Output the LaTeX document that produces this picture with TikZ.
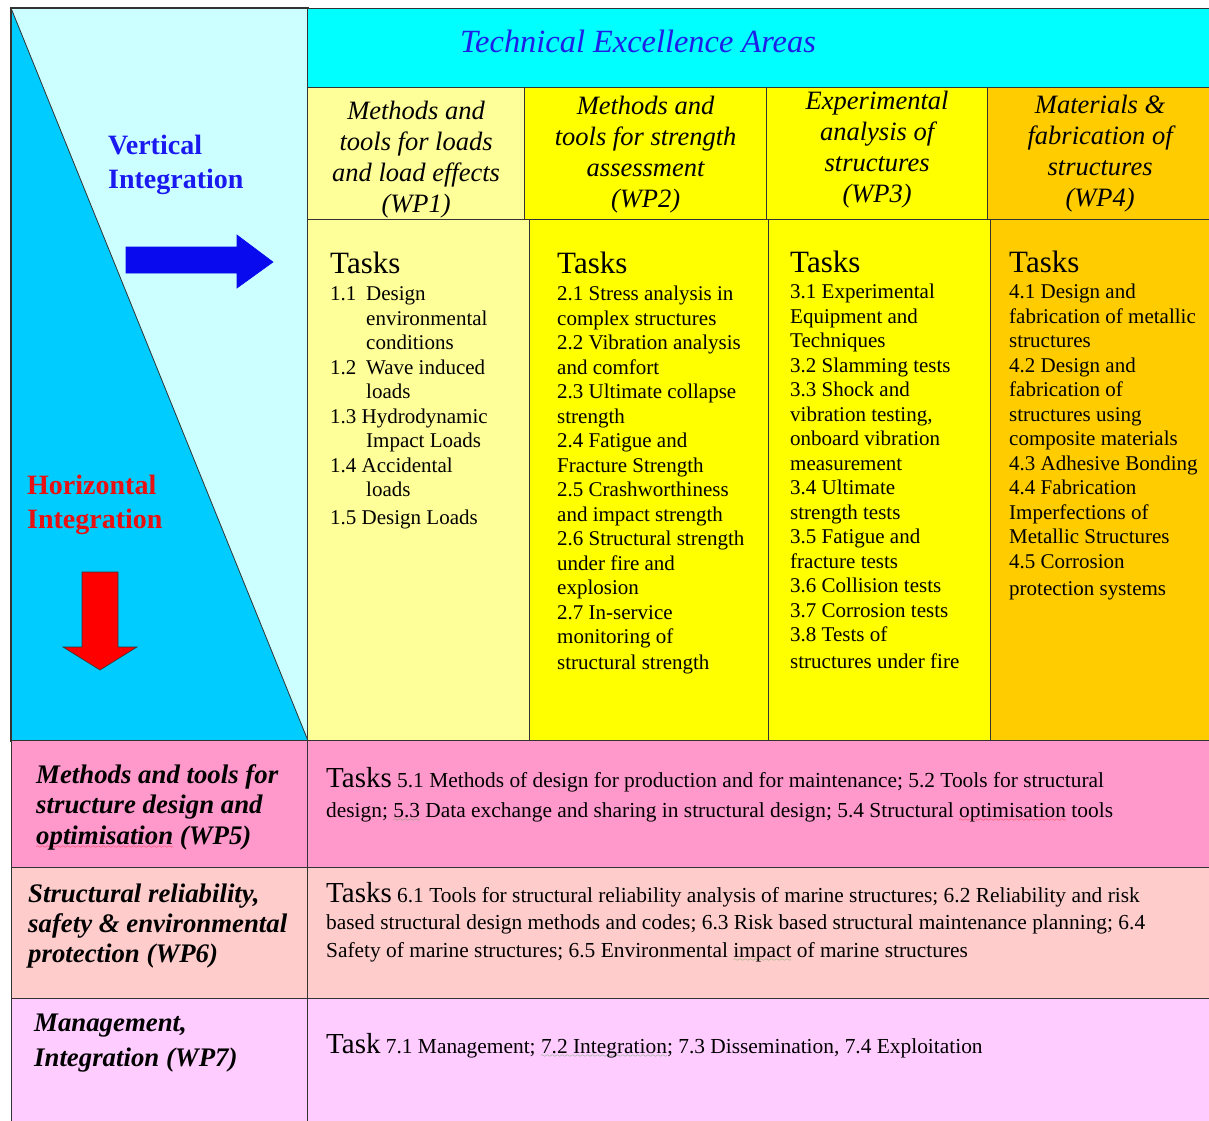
\documentclass[tikz,border=0pt]{standalone}
\usepackage{fontspec}
\setmainfont{Liberation Serif}
\usetikzlibrary{positioning}

\definecolor{paleCyan}{HTML}{CCFFFF}
\definecolor{deepCyan}{HTML}{00CCFF}
\definecolor{headCyan}{HTML}{00FFFF}
\definecolor{wpPale}{HTML}{FFFF99}
\definecolor{wpYellow}{HTML}{FFFF00}
\definecolor{wpOrange}{HTML}{FFCC00}
\definecolor{rowPink}{HTML}{FF99CC}
\definecolor{rowRose}{HTML}{FFCCCC}
\definecolor{rowLilac}{HTML}{FFCCFF}
\definecolor{areaBlue}{HTML}{1E1EE6}
\definecolor{arrowBlue}{HTML}{0A0AEE}
\definecolor{vertBlue}{HTML}{1A1AF0}
\definecolor{horizRed}{HTML}{E81010}
\definecolor{spellGreen}{HTML}{2E9E2E}
\definecolor{lineGray}{HTML}{333333}

\font\wavefont=lasy6
\newcommand\spellwave[2]{\leavevmode\setbox0=\hbox{#2}\rlap{\lower4pt\hbox to\wd0{\color{#1}\xleaders\hbox{\wavefont\char58}\hfil}}\copy0\relax}
\newcommand\redwave[1]{\spellwave{red}{#1}}
\newcommand\greenwave[1]{\spellwave{spellGreen}{#1}}
\newcommand\coltask{\fontsize{31}{31}\selectfont}
\newcommand\bigtask{\fontsize{29}{29}\selectfont}

\begin{document}
\begin{tikzpicture}[x=1pt, y=-1pt,
    cell/.style={draw=lineGray, line width=1.2pt, anchor=north west, inner sep=0pt},
    wphead/.style={font=\itshape\fontsize{26.5}{31}\selectfont, align=center, inner sep=0pt},
    tasklist/.style={anchor=north west, inner sep=0pt, align=left, font=\fontsize{21}{24.5}\selectfont},
    rowtext/.style={anchor=north west, inner sep=0pt, align=left, font=\fontsize{21.4}{27.5}\selectfont},
    rowlabel/.style={anchor=north west, inner sep=0pt, align=left, font=\bfseries\itshape\fontsize{26.8}{30}\selectfont},
    integ/.style={anchor=north west, inner sep=0pt, align=left, font=\bfseries\fontsize{28}{34}\selectfont},
    bigarrow/.style={draw=lineGray, line width=0.6pt, line join=miter}]

    \useasboundingbox (0,0) rectangle (1209,1120);

    % left panel with the two integration wedges
    \node[cell, fill=paleCyan, minimum width=296, minimum height=732] (panel) at (11,8) {};
    \fill[deepCyan] (panel.north west) -- (panel.south east) -- (panel.south west) -- cycle;
    \draw[lineGray, line width=1.2pt] (panel.north west) rectangle (panel.south east);
    \draw[lineGray, line width=0.8pt] (panel.north west) -- (panel.south east);

    \node[integ, text=vertBlue] (vert) at (108,135) {Vertical\\Integration};
    \node[integ, text=horizRed] (horiz) at (27,475) {Horizontal\\Integration};

    \filldraw[bigarrow, fill=arrowBlue, draw=arrowBlue] (126,247) -- (237,247) -- (237,235) -- (273,262)
        -- (237,288) -- (237,273) -- (126,273) -- cycle;
    \filldraw[bigarrow, fill=red] (82,572) -- (118,572) -- (118,647) -- (137,647) -- (100,670)
        -- (63,647) -- (82,647) -- cycle;

    % technical excellence areas
    \node[cell, fill=headCyan, minimum width=905, minimum height=79] (areas) at (307,8) {};
    \node[anchor=base, font=\itshape\fontsize{32.4}{32}\selectfont, text=areaBlue] (areastitle) at (638,52) {Technical Excellence Areas};

    \node[cell, fill=wpPale, minimum width=217, minimum height=132] (wp1) at (307,87) {};
    \node[cell, fill=wpYellow, minimum width=242, minimum height=132] (wp2) at (524,87) {};
    \node[cell, fill=wpYellow, minimum width=221, minimum height=132] (wp3) at (766,87) {};
    \node[cell, fill=wpOrange, minimum width=225, minimum height=132] (wp4) at (987,87) {};
    \node[wphead, yshift=-6pt] (wp1name) at (wp1.center) {Methods and\\tools for loads\\and load effects\\(WP1)};
    \node[wphead, yshift=-1pt] (wp2name) at (wp2.center) {Methods and\\tools for strength\\assessment\\(WP2)};
    \node[wphead, yshift=4pt] (wp3name) at (wp3.center) {Experimental\\analysis of\\structures\\(WP3)};
    \node[wphead] (wp4name) at (wp4.center) {Materials \&\\fabrication of\\structures\\(WP4)};

    \node[cell, fill=wpPale, minimum width=222, minimum height=521] (tasks1) at (307,219) {};
    \node[cell, fill=wpYellow, minimum width=239, minimum height=521] (tasks2) at (529,219) {};
    \node[cell, fill=wpYellow, minimum width=222, minimum height=521] (tasks3) at (768,219) {};
    \node[cell, fill=wpOrange, minimum width=222, minimum height=521] (tasks4) at (990,219) {};

    \node[tasklist] (list1) at (330,252) {{\coltask Tasks}\\[2.5pt]
        \makebox[36pt][l]{1.1}Design\\
        \hspace*{36pt}environmental\\
        \hspace*{36pt}conditions\\
        \makebox[36pt][l]{1.2}Wave induced\\
        \hspace*{36pt}loads\\
        1.3 Hydrodynamic\\
        \hspace*{36pt}Impact Loads\\
        1.4 Accidental\\
        \hspace*{36pt}loads\\[3pt]
        1.5 Design Loads};
    \node[tasklist] (list2) at (557,252) {{\coltask Tasks}\\[2.5pt]
        2.1 Stress analysis in\\
        complex structures\\
        2.2 Vibration analysis\\
        and comfort\\
        2.3 Ultimate collapse\\
        strength\\
        2.4 Fatigue and\\
        Fracture Strength\\
        2.5 Crashworthiness\\
        and impact strength\\
        2.6 Structural strength\\
        under fire and\\
        explosion\\
        2.7 In-service\\
        monitoring of\\[1.5pt]
        structural strength};
    \node[tasklist] (list3) at (790,251) {{\coltask Tasks}\\[1.5pt]
        3.1 Experimental\\
        Equipment and\\
        Techniques\\
        3.2 Slamming tests\\
        3.3 Shock and\\
        vibration testing,\\
        onboard vibration\\
        measurement\\
        3.4 Ultimate\\
        strength tests\\
        3.5 Fatigue and\\
        fracture tests\\
        3.6 Collision tests\\
        3.7 Corrosion tests\\
        3.8 Tests of\\[2.5pt]
        structures under fire};
    \node[tasklist] (list4) at (1009,251) {{\coltask Tasks}\\[1.5pt]
        4.1 Design and\\
        fabrication of metallic\\
        structures\\
        4.2 Design and\\
        fabrication of\\
        structures using\\
        composite materials\\
        4.3 Adhesive Bonding\\
        4.4 Fabrication\\
        Imperfections of\\
        Metallic Structures\\
        4.5 Corrosion\\[2.5pt]
        protection systems};

    % horizontal work packages
    \node[cell, fill=rowPink, minimum width=296, minimum height=127] (wp5) at (11,740) {};
    \node[cell, fill=rowPink, minimum width=905, minimum height=127] (wp5tasks) at (307,740) {};
    \node[cell, fill=rowRose, minimum width=296, minimum height=131] (wp6) at (11,867) {};
    \node[cell, fill=rowRose, minimum width=905, minimum height=131] (wp6tasks) at (307,867) {};
    \node[cell, fill=rowLilac, minimum width=296, minimum height=130] (wp7) at (11,998) {};
    \node[cell, fill=rowLilac, minimum width=905, minimum height=130] (wp7tasks) at (307,998) {};

    \node[rowlabel] (wp5name) at (36,764) {Methods and tools for\\[0.5pt]structure design and\\[0.5pt]\redwave{optimisation} (WP5)};
    \node[rowlabel] (wp6name) at (28,884) {Structural reliability,\\safety \& environmental\\protection (WP6)};
    \node[rowlabel] (wp7name) at (34,1014) {Management,\\[5pt]Integration (WP7)};

    \node[rowtext] (wp5list) at (326,767) {{\bigtask Tasks} 5.1 Methods of design for production and for maintenance; 5.2 Tools for structural\\[2.5pt]
        design; \greenwave{5.3} Data exchange and sharing in structural design; 5.4 Structural \redwave{optimisation} tools};
    \node[rowtext] (wp6list) at (326,882) {{\bigtask Tasks} 6.1 Tools for structural reliability analysis of marine structures; 6.2 Reliability and risk\\
        based structural design methods and codes; 6.3 Risk based structural maintenance planning; 6.4\\
        Safety of marine structures; 6.5 Environmental \greenwave{impact} of marine structures};
    \node[rowtext] (wp7list) at (326,1033) {{\bigtask Task} 7.1 Management; \greenwave{7.2 Integration}; 7.3 Dissemination, 7.4 Exploitation};
\end{tikzpicture}
\end{document}
